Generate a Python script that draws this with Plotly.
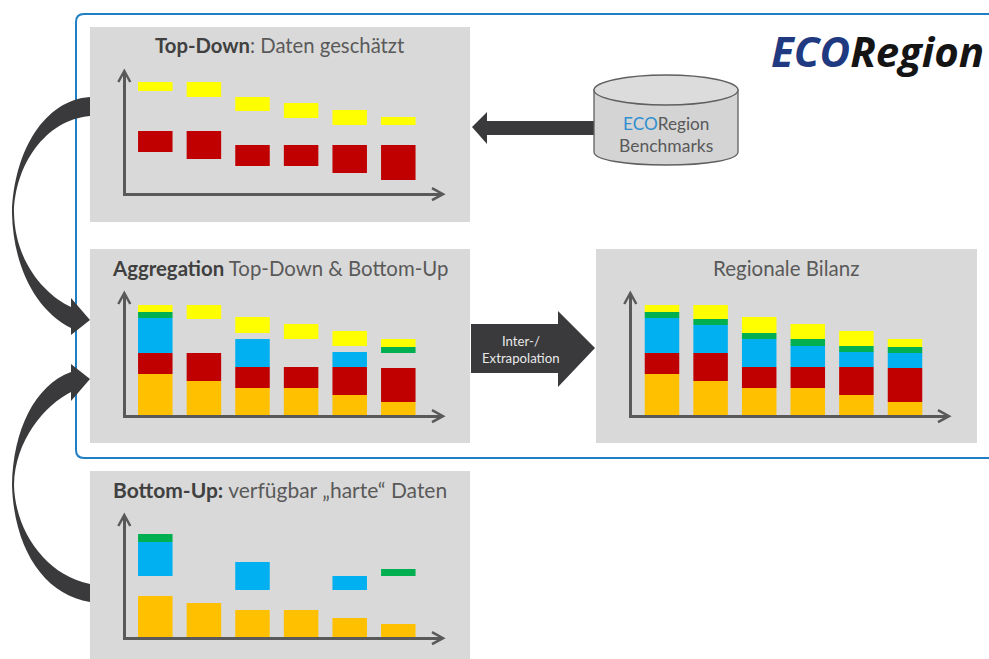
import plotly.graph_objects as go

W, H = 989, 659

# Six periods along the x axis of every small chart
periods = [1, 2, 3, 4, 5, 6]

# Regional balance: complete stack per period, bottom to top
orange = [41, 34, 27, 27, 20, 13]
red = [21, 28, 21, 21, 28, 34]
blue = [35, 28, 28, 21, 15, 15]
green = [6, 6, 6, 7, 6, 6]
yellow = [7, 14, 16, 15, 15, 8]

# Aggregation: blue and green are only known for some periods
blue_known = [35, None, 28, None, 15, None]
green_known = [6, None, None, None, None, 6]

# Top-down estimates, floating ranges
td_red_low = [41, 34, 27, 27, 20, 13]
td_red_high = [62, 62, 48, 48, 48, 48]
td_yellow_low = [102, 96, 82, 75, 68, 68]
td_yellow_high = [111, 111, 96, 90, 83, 76]

# Bottom-up measured data
bu_orange = [41, 34, 27, 27, 19, 13]
bu_blue_low = [61, None, 47, None, 47, None]
bu_blue_high = [95, None, 75, None, 61, None]
bu_green_low = [95, None, None, None, None, 61]
bu_green_high = [103, None, None, None, None, 68]

COL = {"orange": "#ffc000", "red": "#c00000", "blue": "#00b0f0",
       "green": "#00b050", "yellow": "#ffff00"}
AXIS = "#595959"
DARK = "#3a3a3c"
PANEL = "#d9d9d9"
FONT = "Lato"
STEP, BAR_W = 48.6, 0.71


def px(x):
    return x / W


def py(y):
    return 1 - y / H


def path(*cmds):
    """Build an SVG path in paper coordinates from pixel-based commands."""
    out = []
    for c in cmds:
        op, pts = c[0], c[1:]
        out.append(op + " ".join(f"{px(x):.5f},{py(y):.5f}" for x, y in pts))
    return " ".join(out)


def stacked_bases(*layers):
    bases, run = [], [0] * len(periods)
    for layer in layers:
        bases.append(list(run))
        run = [r + v for r, v in zip(run, layer)]
    return bases


base_o, base_r, base_b, base_g, base_y = stacked_bases(orange, red, blue, green, yellow)


def span(low, high):
    return [None if a is None else b - a for a, b in zip(low, high)]


def only_known(values, bases):
    return [None if v is None else b for v, b in zip(values, bases)]


panels = {
    "top": dict(left=125.5, right=442, base=193, top=72, cx=155.3, series=[
        ("red", span(td_red_low, td_red_high), td_red_low),
        ("yellow", span(td_yellow_low, td_yellow_high), td_yellow_low),
    ]),
    "agg": dict(left=125.5, right=442, base=415, top=294, cx=155.3, series=[
        ("orange", orange, base_o), ("red", red, base_r),
        ("blue", blue_known, only_known(blue_known, base_b)),
        ("green", green_known, only_known(green_known, base_g)),
        ("yellow", yellow, base_y),
    ]),
    "reg": dict(left=631.5, right=948, base=415, top=294, cx=662, series=[
        ("orange", orange, base_o), ("red", red, base_r), ("blue", blue, base_b),
        ("green", green, base_g), ("yellow", yellow, base_y),
    ]),
    "bot": dict(left=125.5, right=442, base=637, top=516, cx=155.3, series=[
        ("orange", bu_orange, [0] * 6),
        ("blue", span(bu_blue_low, bu_blue_high), bu_blue_low),
        ("green", span(bu_green_low, bu_green_high), bu_green_low),
    ]),
}

fig = go.Figure()
layout_axes = {}
shapes = []

# Outer frame, open towards the right edge
shapes.append(dict(type="path", xref="paper", yref="paper", layer="below",
                   path=path(("M", (1000, 14)), ("L", (84, 14)), ("Q", (76, 14), (76, 22)),
                             ("L", (76, 450)), ("Q", (76, 458), (84, 458)), ("L", (1000, 458))),
                   line=dict(color="#1f7fc4", width=2), fillcolor="rgba(0,0,0,0)"))

# Grey backgrounds behind the charts
for x0, y0, x1, y1 in [(90, 27, 470, 222), (90, 249, 470, 443),
                       (596, 249, 977, 443), (90, 471, 470, 662)]:
    shapes.append(dict(type="rect", xref="paper", yref="paper", layer="below",
                       x0=px(x0), x1=px(x1), y0=py(y0), y1=py(y1),
                       fillcolor=PANEL, line=dict(width=0)))

for i, p in enumerate(panels.values(), start=1):
    suffix = "" if i == 1 else str(i)
    left_val = 1 - (p["cx"] - p["left"]) / STEP
    right_val = 1 + (p["right"] - p["cx"]) / STEP
    line = dict(showline=True, linecolor=AXIS, linewidth=2.5, showgrid=False,
                zeroline=False, showticklabels=False, ticks="", fixedrange=True)
    layout_axes["xaxis" + suffix] = dict(domain=[px(p["left"]), px(p["right"])],
                                         range=[left_val, right_val],
                                         anchor="y" + suffix, **line)
    layout_axes["yaxis" + suffix] = dict(domain=[py(p["base"]), py(p["top"])],
                                         range=[0, p["base"] - p["top"]],
                                         anchor="x" + suffix, **line)
    for colour, values, bases in p["series"]:
        fig.add_trace(go.Bar(x=periods, y=values, base=bases, width=BAR_W,
                             marker=dict(color=COL[colour], line=dict(width=0)),
                             xaxis="x" + suffix, yaxis="y" + suffix,
                             showlegend=False, name=colour))
    # Open arrow heads on both axes
    ax_x, ax_y = p["left"] - 1.2, p["base"] + 1.2
    shapes.append(dict(type="path", xref="paper", yref="paper",
                       path=path(("M", (ax_x - 6, p["top"] + 10)), ("L", (ax_x, p["top"] - 1)),
                                 ("L", (ax_x + 6, p["top"] + 10))),
                       line=dict(color=AXIS, width=2.5), fillcolor="rgba(0,0,0,0)"))
    shapes.append(dict(type="path", xref="paper", yref="paper",
                       path=path(("M", (p["right"] - 10, ax_y - 6)), ("L", (p["right"] + 1, ax_y)),
                                 ("L", (p["right"] - 10, ax_y + 6))),
                       line=dict(color=AXIS, width=2.5), fillcolor="rgba(0,0,0,0)"))


def solid(*cmds, fill=DARK):
    shapes.append(dict(type="path", xref="paper", yref="paper",
                       path=path(*cmds) + " Z", fillcolor=fill, line=dict(width=0)))


# Curved arrow: top-down into aggregation
solid(("M", (90, 97)), ("C", (45, 100), (14, 150), (12, 213)), ("C", (13, 265), (35, 310), (71, 328)),
      ("L", (71, 335)), ("L", (90, 320)), ("L", (71, 298)), ("L", (71, 307)),
      ("C", (45, 295), (15, 262), (14, 213)), ("C", (15, 165), (45, 120), (90, 116)))

# Curved arrow: bottom-up into aggregation
solid(("M", (90, 602)), ("C", (45, 595), (14, 550), (12, 485)), ("C", (13, 430), (35, 385), (71, 372)),
      ("L", (71, 364)), ("L", (90, 379)), ("L", (71, 401)), ("L", (71, 392)),
      ("C", (45, 405), (15, 440), (14, 485)), ("C", (15, 530), (45, 575), (90, 584)))

# Arrow from the benchmark store to the top-down panel
solid(("M", (594, 121)), ("L", (487, 121)), ("L", (487, 112)), ("L", (472, 127)),
      ("L", (487, 144)), ("L", (487, 135)), ("L", (594, 135)))

# Block arrow carrying the extrapolation step
solid(("M", (471, 324)), ("L", (558, 324)), ("L", (558, 311)), ("L", (595, 348)),
      ("L", (558, 387)), ("L", (558, 373)), ("L", (471, 373)))

# Benchmark cylinder
cx0, cx1, cmid, k = 594, 738, 666, 40
body = path(("M", (cx0, 90)), ("L", (cx0, 152)), ("C", (cx0, 160), (cmid - k, 165), (cmid, 165)),
            ("C", (cmid + k, 165), (cx1, 160), (cx1, 152)), ("L", (cx1, 90))) + " Z"
shapes.append(dict(type="path", xref="paper", yref="paper", path=body,
                   fillcolor="#d4d4d4", line=dict(color="#5f5f5f", width=1.3)))
lid = path(("M", (cx0, 90)), ("C", (cx0, 82), (cmid - k, 75), (cmid, 75)),
           ("C", (cmid + k, 75), (cx1, 82), (cx1, 90)),
           ("C", (cx1, 98), (cmid + k, 105), (cmid, 105)),
           ("C", (cmid - k, 105), (cx0, 98), (cx0, 90))) + " Z"
shapes.append(dict(type="path", xref="paper", yref="paper", path=lid,
                   fillcolor="#dcdcdc", line=dict(color="#5f5f5f", width=1.3)))


def label(x, y, text, size, color="#595959", family=FONT):
    return dict(xref="paper", yref="paper", x=px(x), y=py(y), text=text, showarrow=False,
                xanchor="center", yanchor="middle",
                font=dict(size=size, color=color, family=family))


annotations = [
    label(280, 45, "<b style='color:#404040'>Top-Down</b>: Daten geschätzt", 20.3),
    label(280, 268, "<b style='color:#404040'>Aggregation</b> Top-Down &amp; Bottom-Up", 20.4),
    label(786, 268, "Regionale Bilanz", 20.5),
    label(280, 490, "<b style='color:#404040'>Bottom-Up:</b> verfügbar „harte“ Daten", 21),
    label(666, 123, "<span style='color:#2f8fd0'>ECO</span>Region", 17.2),
    label(666, 146, "Benchmarks", 17.5),
    label(521, 341, "Inter-/", 13.2, "#e8e8e8"),
    label(521, 358, "Extrapolation", 13.2, "#e8e8e8"),
    label(877, 50, "<i><b><span style='color:#1f3a80'>ECO</span>Region</b></i>", 42,
          "#141414", "Open Sans"),
]

fig.update_layout(width=W, height=H, margin=dict(l=0, r=0, t=0, b=0),
                  paper_bgcolor="white", plot_bgcolor="rgba(0,0,0,0)",
                  barmode="overlay", showlegend=False,
                  shapes=shapes, annotations=annotations, **layout_axes)

fig.write_html("out.html", config={"displayModeBar": False})
